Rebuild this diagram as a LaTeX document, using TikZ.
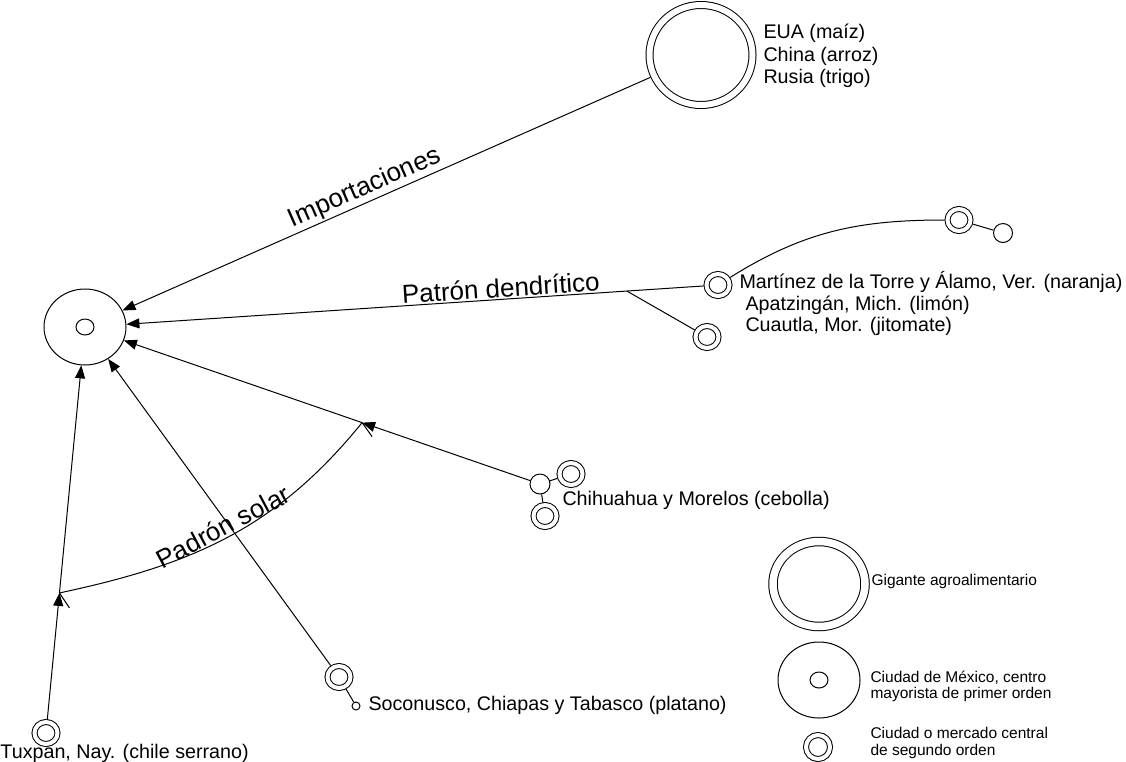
\documentclass[tikz,border=0pt]{standalone}
\usepackage{fontspec}
\setmainfont{Liberation Sans}
\usetikzlibrary{arrows.meta,shapes.geometric,calc}
\begin{document}
\begin{tikzpicture}[x=1pt,y=-1pt,line width=1pt,
            >={Triangle[length=13pt,width=10pt]},
            every node/.style={inner sep=0pt},
            mayor/.style={draw,ellipse,minimum width=82pt,minimum height=76pt},
            centro/.style={draw,ellipse,minimum width=18pt,minimum height=16pt},
            gigante/.style={draw,ellipse,double,double distance=6pt,fill=white,minimum width=103pt,minimum height=100pt,outer sep=4pt},
            segundo/.style={draw,ellipse,double,double distance=4pt,fill=white,minimum width=23pt,minimum height=22pt,outer sep=3pt},
            punto/.style={draw,circle,fill=white,minimum size=#1},
            rotulo/.style={font=\fontsize{26}{30}\selectfont,inner sep=1.5pt},
            lugar/.style={font=\fontsize{19.7}{22}\selectfont,anchor=base west},
            leyenda/.style={font=\fontsize{15.5}{18}\selectfont,anchor=base west}]
                \useasboundingbox (0,0) rectangle (1126,761);
                \node[mayor] (mex) at (85,327) {};
                \node[centro] (mexc) at (85,327) {};
                \node[gigante] (gig) at (701,55) {};
                \node[lugar] (eua) at (763,38) {EUA (maíz)};
                \node[lugar] (chn) at (763,61) {China (arroz)};
                \node[lugar] (rus) at (763,83) {Rusia (trigo)};
                \node[segundo] (mart) at (718,285) {};
                \node[segundo] (cuau) at (707,337) {};
                \node[segundo] (ver) at (959,220) {};
                \node[punto=19pt] (verb) at (1003,233) {};
                \node[lugar] (mart1) at (739,288) {Martínez de la Torre y Álamo, Ver. (naranja)};
                \node[lugar] (mart2) at (745,310) {Apatzingán, Mich. (limón)};
                \node[lugar] (mart3) at (745,331) {Cuautla, Mor. (jitomate)};
                \node[punto=20pt] (chi) at (540,484) {};
                \node[segundo] (chiA) at (571,474) {};
                \node[segundo] (chiB) at (545,516) {};
                \node[lugar] (chit) at (562,505) {Chihuahua y Morelos (cebolla)};
                \node[segundo] (soc) at (339,677) {};
                \node[punto=8pt] (socb) at (356,706) {};
                \node[lugar] (soct) at (368,710) {Soconusco, Chiapas y Tabasco (platano)};
                \node[segundo] (tux) at (46,733) {};
                \node[lugar] (tuxt) at (0,758) {Tuxpan, Nay. (chile serrano)};
                \coordinate (s1) at ($(tux)!0.345!(mex)$);
                \coordinate (s2) at ($(chi)!0.391!(mex)$);
                \coordinate (b1) at ($(mart)!0.144!(mex)$);
                \draw[->] (gig) -- node[rotulo,pos=0.53,sloped,above] {Importaciones} (mex);
                \draw[->] (mart) -- node[rotulo,pos=0.35,sloped,above] {Patrón dendrítico} (mex);
                \draw (b1) -- (cuau);
                \draw (mart) to[out=32,in=180] (ver);
                \draw (ver) -- (verb);
                \draw[->] (chi) -- (s2);
                \draw[->] (s2) -- (mex);
                \draw (chi) -- (chiA);
                \draw (chi) -- (chiB);
                \draw[->] (soc) -- (mex);
                \draw (soc) -- (socb);
                \draw[->] (tux) -- (s1);
                \draw[->] (s1) -- (mex);
                \draw (s1) to[out=12,in=-129] node[rotulo,pos=0.5,sloped,above] {Padrón solar} (s2);
                \draw (s1) -- ++(10,15);
                \draw (s2) -- ++(10,14);
                \node[gigante,double distance=7.5pt,minimum width=92pt,minimum height=85pt] (lgig) at (819,584) {};
                \node[leyenda] (lgigt) at (871,585) {Gigante agroalimentario};
                \node[mayor] (lmex) at (819,680) {};
                \node[centro] (lmexc) at (819,680) {};
                \node[leyenda] (lmext1) at (870,682) {Ciudad de México, centro};
                \node[leyenda] (lmext2) at (870,698) {mayorista de primer orden};
                \node[segundo,minimum width=24pt,minimum height=24pt] (lseg) at (818,747) {};
                \node[leyenda] (lsegt1) at (870,738) {Ciudad o mercado central};
                \node[leyenda] (lsegt2) at (870,755) {de segundo orden};
            \end{tikzpicture}
\end{document}
